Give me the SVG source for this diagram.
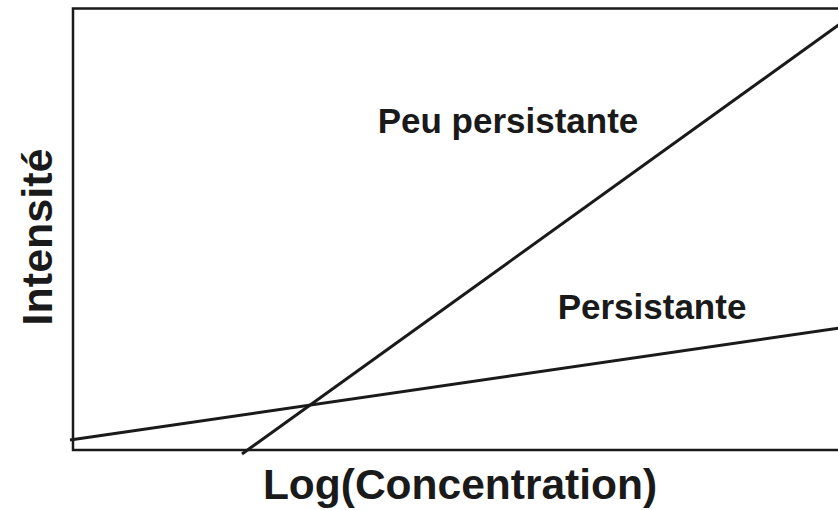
<svg xmlns="http://www.w3.org/2000/svg" width="838" height="510" viewBox="0 0 838 510">
<style>
.lbl{font-family:"Liberation Sans",Arial,sans-serif;font-weight:bold;fill:#1a1a1a;text-anchor:middle}
.ln{stroke:#1a1a1a;stroke-width:3;fill:none;stroke-linecap:butt}
</style>
<rect width="838" height="510" fill="#fff"/>
<g id="axes">
<path d="M839,8.5 H73 V450 H839" fill="none" stroke="#1a1a1a" stroke-width="2.5"/>
</g>
<g id="connectors">
<line class="ln" x1="242" y1="454" x2="840" y2="24"/>
<line class="ln" x1="70" y1="440" x2="840" y2="328"/>
</g>
<g id="label-peu"><text class="lbl" x="508" y="133" font-size="35">Peu persistante</text></g>
<g id="label-persistante"><text class="lbl" x="652" y="319" font-size="35">Persistante</text></g>
<g id="label-x"><text class="lbl" x="460" y="499" font-size="42.5">Log(Concentration)</text></g>
<g id="label-y"><text class="lbl" transform="translate(52,237) rotate(-90)" font-size="43">Intensité</text></g>
</svg>
